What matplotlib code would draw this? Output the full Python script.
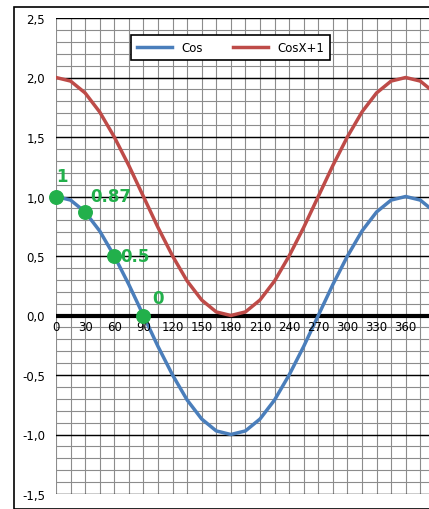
import matplotlib
matplotlib.use("Agg")
import matplotlib.pyplot as plt
from matplotlib.patches import Rectangle

angles = [0, 15, 30, 45, 60, 75, 90, 105, 120, 135, 150, 165, 180, 195, 210,
          225, 240, 255, 270, 285, 300, 315, 330, 345, 360, 375, 390]
cos_vals = [1, 0.97, 0.87, 0.71, 0.5, 0.26, 0, -0.26, -0.5, -0.71, -0.87, -0.97, -1,
            -0.97, -0.87, -0.71, -0.5, -0.26, 0, 0.26, 0.5, 0.71, 0.87, 0.97, 1, 0.97, 0.87]
cos1_vals = [2, 1.97, 1.87, 1.71, 1.5, 1.26, 1, 0.74, 0.5, 0.29, 0.13, 0.03, 0,
             0.03, 0.13, 0.29, 0.5, 0.74, 1, 1.26, 1.5, 1.71, 1.87, 1.97, 2, 1.97, 1.87]
pt_x = [0, 30, 60, 90]
pt_y = [1, 0.87, 0.5, 0]
pt_labels = ["1", "0.87", "0.5", "0"]
x_ticks = list(range(0, 361, 30))
y_ticks = [-1.5, -1.0, -0.5, 0.0, 0.5, 1.0, 1.5, 2.0, 2.5]

W, H = 429, 510
fig = plt.figure(figsize=(W / 100, H / 100), dpi=100)
fig.patches.append(Rectangle((14 / W, 0), 1, 1 - 8 / H, transform=fig.transFigure,
                             fill=False, edgecolor="black", lw=1.2))
ax = fig.add_axes([56 / W, 15 / H, 373 / W, 476 / H])
ax.set_xlim(0, 384)
ax.set_ylim(-1.5, 2.5)

# grid: minor every 15 deg / 0.1, major horizontal every 0.5
for gx in range(15, 384, 15):
    ax.axvline(gx, color="#8c8c8c", lw=0.8, zorder=0)
for i in range(-14, 25):
    ax.axhline(i / 10, color="#8c8c8c", lw=0.8, zorder=0)
ax.axvline(0, color="#8c8c8c", lw=0.8, zorder=0)
for gy in y_ticks:
    ax.axhline(gy, color="black", lw=1.0, zorder=1)
ax.axhline(0, color="black", lw=3, zorder=2)

l1, = ax.plot(angles, cos_vals, color="#4A7EBB", lw=2.5, zorder=3, label="Cos",
              solid_joinstyle="round")
l2, = ax.plot(angles, cos1_vals, color="#BE4B48", lw=2.5, zorder=3, label="CosX+1",
              solid_joinstyle="round")
ax.scatter(pt_x, pt_y, s=95, color="#22B04B", zorder=5, clip_on=False)
offsets = [(0, 0.1), (5, 0.06), (6, 0.0), (9, 0.07)]
for x, y, t, (dx, dy) in zip(pt_x, pt_y, pt_labels, offsets):
    ax.text(x + dx, y + dy, t, color="#22B04B", fontsize=12, fontweight="bold",
            ha="left", va="bottom" if dy > 0 else "center", zorder=6)

for xt in x_ticks:
    ax.text(xt, -0.04, str(xt), ha="center", va="top", fontsize=8.5, zorder=4)

ax.set_yticks(y_ticks)
ax.set_yticklabels([f"{v:.1f}".replace(".", ",") for v in y_ticks], fontsize=8.5)
ax.set_xticks([])
ax.tick_params(axis="y", length=0, pad=8)
for s in ax.spines.values():
    s.set_visible(False)

leg = ax.legend(handles=[l1, l2], loc="upper left", bbox_to_anchor=(69 / 373, 1 - 11 / 476),
                ncol=2, frameon=True, fancybox=False, edgecolor="black", fontsize=8.5,
                handlelength=3, columnspacing=2.5, borderpad=0.5, framealpha=1)
leg.get_frame().set_linewidth(1.2)

fig.savefig("out.png", dpi=100)
